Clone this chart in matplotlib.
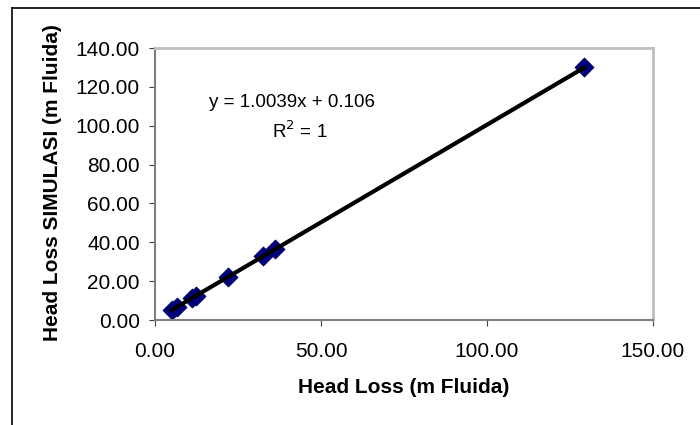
import matplotlib.pyplot as plt
import numpy as np
from matplotlib.lines import Line2D
from matplotlib.ticker import FormatStrFormatter

plt.rcParams["font.family"] = ["Liberation Sans", "DejaVu Sans"]

# data
head_loss = [5.0, 6.5, 11.0, 12.2, 22.0, 32.6, 36.1, 129.3]
head_loss_sim = [5.1, 6.7, 11.3, 12.6, 22.3, 32.8, 36.6, 130.2]
slope, intercept = 1.0039, 0.106

x_ticks = [0, 50, 100, 150]
y_ticks = [0, 20, 40, 60, 80, 100, 120, 140]

fig = plt.figure(figsize=(7, 4.25), dpi=100)
ax = fig.add_axes([155 / 700, 1 - 320 / 425, 498 / 700, 272 / 425])

# trendline over the data range
xs = np.array([min(head_loss), max(head_loss)])
ax.plot(xs, slope * xs + intercept, color="black", lw=3, zorder=3)
ax.scatter(head_loss, head_loss_sim, marker="D", s=90, color="#000080",
           edgecolors="#000060", linewidths=0.8, zorder=2)

ax.set_xlim(0, 150)
ax.set_ylim(0, 140)
ax.set_xticks(x_ticks)
ax.set_yticks(y_ticks)
ax.xaxis.set_major_formatter(FormatStrFormatter("%.2f"))
ax.yaxis.set_major_formatter(FormatStrFormatter("%.2f"))
ax.tick_params(labelsize=15, length=4, color="#404040")
ax.tick_params(axis="y", pad=7)
ax.tick_params(axis="x", pad=12)

for side in ["top", "right"]:
    ax.spines[side].set_color("#c0c0c0")
    ax.spines[side].set_linewidth(2)
for side in ["left", "bottom"]:
    ax.spines[side].set_color("#808080")
    ax.spines[side].set_linewidth(1.5)

ax.set_xlabel("Head Loss (m Fluida)", fontsize=15, fontweight="bold")
ax.set_ylabel("Head Loss SIMULASI (m Fluida)", fontsize=15, fontweight="bold")
ax.xaxis.set_label_coords(0.5, -0.215)
ax.yaxis.set_label_coords(-0.187, 0.507)

ax.text(0.275, 0.80, "y = 1.0039x + 0.106", transform=ax.transAxes,
        ha="center", va="center", fontsize=13.5)
ax.text(0.29, 0.695, "R$^2$ = 1", transform=ax.transAxes,
        ha="center", va="center", fontsize=13.5)

# chart area border (only top and left visible)
fig.add_artist(Line2D([12 / 700, 1], [1 - 8 / 425, 1 - 8 / 425],
                      transform=fig.transFigure, color="black", lw=1.2))
fig.add_artist(Line2D([12 / 700, 12 / 700], [0, 1 - 8 / 425],
                      transform=fig.transFigure, color="black", lw=1.2))

fig.savefig("out.png", dpi=100)
